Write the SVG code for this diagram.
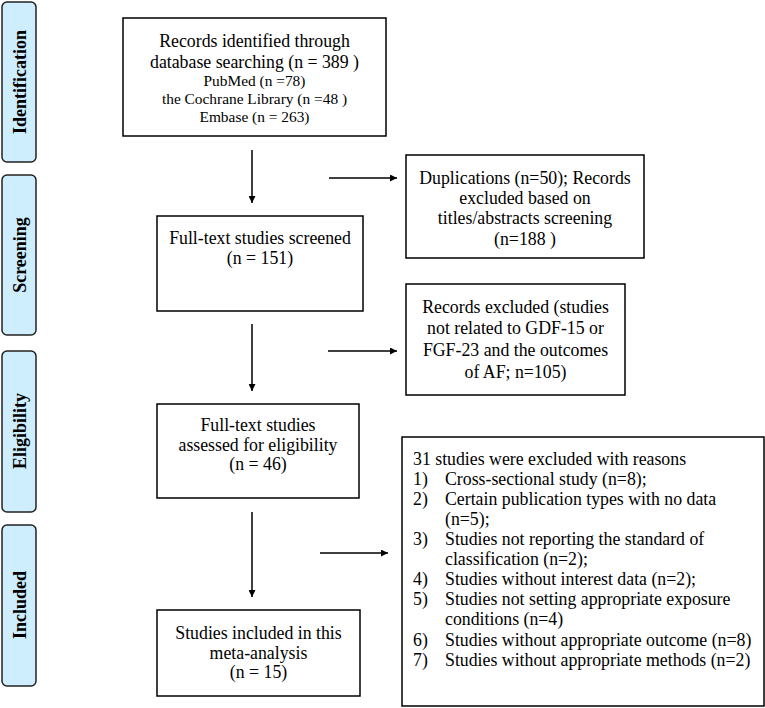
<svg xmlns="http://www.w3.org/2000/svg" width="765" height="708" viewBox="0 0 765 708">
<style>
.box{fill:#fff;stroke:#000;stroke-width:1.5}
.side{fill:#cfeefd;stroke:#222;stroke-width:1.5}
.t{font-family:"Liberation Serif","Times New Roman",serif;font-size:17.8px;fill:#000}
.s{font-family:"Liberation Serif","Times New Roman",serif;font-size:15.4px;fill:#000}
.lab{font-family:"Liberation Serif","Times New Roman",serif;font-size:18px;font-weight:bold;fill:#000}
.c{text-anchor:middle}
.ln{stroke:#000;stroke-width:1.5;fill:none}
</style>
<defs>
<marker id="ah" viewBox="0 0 10 10" refX="10" refY="5" markerWidth="7" markerHeight="7" orient="auto" markerUnits="userSpaceOnUse">
<path d="M0,0 L10,5 L0,10 z" fill="#000"/>
</marker>
</defs>
<g id="label-identification"><rect class="side" x="2" y="2" width="34" height="160" rx="5"/><text class="lab c" transform="translate(26,82) rotate(-90)">Identification</text></g>
<g id="label-screening"><rect class="side" x="2" y="175" width="34" height="160" rx="5"/><text class="lab c" transform="translate(26,255) rotate(-90)">Screening</text></g>
<g id="label-eligibility"><rect class="side" x="2" y="351" width="34" height="161" rx="5"/><text class="lab c" transform="translate(26,431) rotate(-90)">Eligibility</text></g>
<g id="label-included"><rect class="side" x="2" y="525" width="34" height="161" rx="5"/><text class="lab c" transform="translate(26,605) rotate(-90)">Included</text></g>
<g id="records-identified"><rect class="box" x="123" y="18" width="263" height="118"/>
<text class="t c" x="254.5" y="47">Records identified through</text>
<text class="t c" x="254.5" y="68">database searching (n = 389 )</text>
<text class="s c" x="254.5" y="86">PubMed (n =78)</text>
<text class="s c" x="254.5" y="104">the Cochrane Library (n =48 )</text>
<text class="s c" x="254.5" y="122">Embase (n = 263)</text></g>
<g id="duplications"><rect class="box" x="406" y="155" width="238" height="103"/>
<text class="t c" x="525" y="184">Duplications (n=50); Records</text>
<text class="t c" x="525" y="204">excluded based on</text>
<text class="t c" x="525" y="224">titles/abstracts screening</text>
<text class="t c" x="525" y="245">(n=188 )</text></g>
<g id="full-text-screened"><rect class="box" x="157" y="216" width="206" height="95"/>
<text class="t c" x="260" y="244">Full-text studies screened</text>
<text class="t c" x="260" y="264">(n = 151)</text></g>
<g id="records-excluded"><rect class="box" x="406" y="284" width="219" height="111"/>
<text class="t c" x="515.5" y="313">Records excluded (studies</text>
<text class="t c" x="515.5" y="334">not related to GDF-15 or</text>
<text class="t c" x="515.5" y="356">FGF-23 and the outcomes</text>
<text class="t c" x="515.5" y="378">of AF; n=105)</text></g>
<g id="assessed-eligibility"><rect class="box" x="157" y="404" width="202" height="94"/>
<text class="t c" x="258" y="431">Full-text studies</text>
<text class="t c" x="258" y="451">assessed for eligibility</text>
<text class="t c" x="258" y="470">(n = 46)</text></g>
<g id="studies-included"><rect class="box" x="157" y="610" width="203" height="86"/>
<text class="t c" x="258.5" y="639">Studies included in this</text>
<text class="t c" x="258.5" y="659">meta-analysis</text>
<text class="t c" x="258.5" y="678">(n = 15)</text></g>
<g id="excluded-reasons"><rect class="box" x="402" y="437" width="362" height="269"/>
<text class="t" x="413" y="465">31 studies were excluded with reasons</text>
<text class="t" x="413" y="485">1)</text><text class="t" x="445" y="485">Cross-sectional study (n=8);</text>
<text class="t" x="413" y="505">2)</text><text class="t" x="445" y="505">Certain publication types with no data</text>
<text class="t" x="445" y="525">(n=5);</text>
<text class="t" x="413" y="545">3)</text><text class="t" x="445" y="545">Studies not reporting the standard of</text>
<text class="t" x="445" y="565">classification (n=2);</text>
<text class="t" x="413" y="585">4)</text><text class="t" x="445" y="585">Studies without interest data (n=2);</text>
<text class="t" x="413" y="605">5)</text><text class="t" x="445" y="605">Studies not setting appropriate exposure</text>
<text class="t" x="445" y="625">conditions (n=4)</text>
<text class="t" x="413" y="646">6)</text><text class="t" x="445" y="646">Studies without appropriate outcome (n=8)</text>
<text class="t" x="413" y="666">7)</text><text class="t" x="445" y="666">Studies without appropriate methods (n=2)</text></g>
<g id="connectors">
<line class="ln" x1="252" y1="150" x2="252" y2="203" marker-end="url(#ah)"/>
<line class="ln" x1="329" y1="178" x2="397" y2="178" marker-end="url(#ah)"/>
<line class="ln" x1="252" y1="324" x2="252" y2="391" marker-end="url(#ah)"/>
<line class="ln" x1="328" y1="351" x2="397" y2="351" marker-end="url(#ah)"/>
<line class="ln" x1="252" y1="512" x2="252" y2="597" marker-end="url(#ah)"/>
<line class="ln" x1="320" y1="553" x2="388" y2="553" marker-end="url(#ah)"/>
</g>
</svg>
